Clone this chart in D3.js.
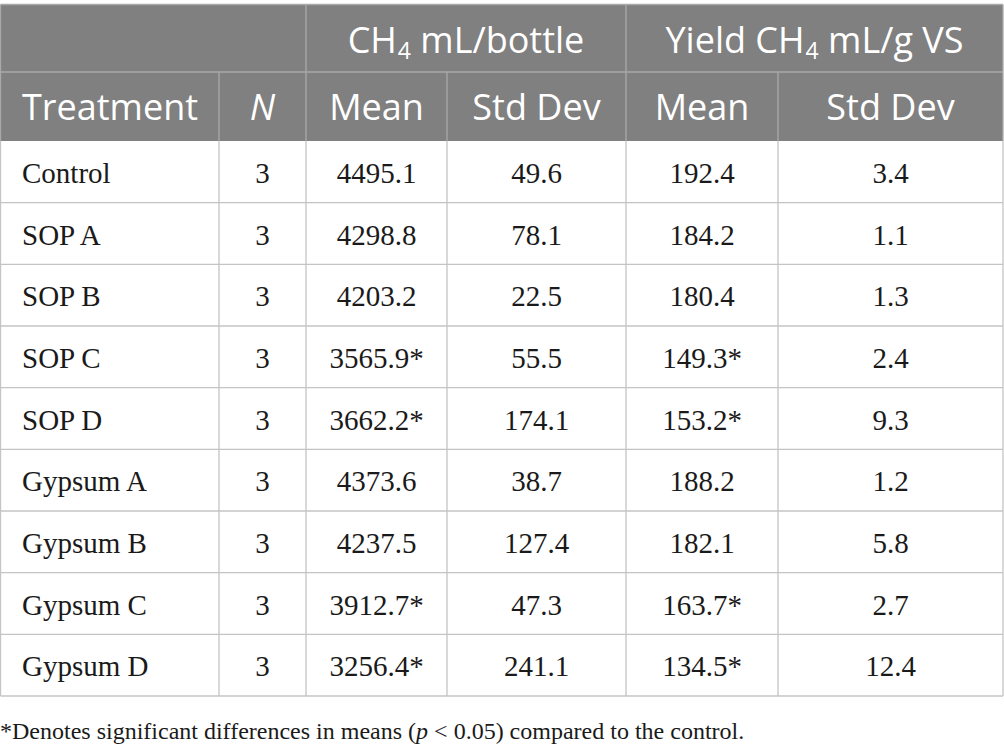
<!DOCTYPE html>
<html>
<head>
<meta charset="utf-8">
<script src="https://cdn.jsdelivr.net/npm/d3@7"></script>
<style>
  html, body { margin: 0; padding: 0; background: #fff; }
  svg { display: block; }
</style>
</head>
<body>
<div id="table"></div>
<script>
// table contents
const treatments = ["Control", "SOP A", "SOP B", "SOP C", "SOP D", "Gypsum A", "Gypsum B", "Gypsum C", "Gypsum D"];
const nValues = [3, 3, 3, 3, 3, 3, 3, 3, 3];
const bottleMean = [4495.1, 4298.8, 4203.2, 3565.9, 3662.2, 4373.6, 4237.5, 3912.7, 3256.4];
const bottleSd = [49.6, 78.1, 22.5, 55.5, 174.1, 38.7, 127.4, 47.3, 241.1];
const yieldMean = [192.4, 184.2, 180.4, 149.3, 153.2, 188.2, 182.1, 163.7, 134.5];
const yieldSd = [3.4, 1.1, 1.3, 2.4, 9.3, 1.2, 5.8, 2.7, 12.4];
// significantly different from control (p < 0.05)
const significant = [false, false, false, true, true, false, false, true, true];
const subHeaders = ["Treatment", "N", "Mean", "Std Dev", "Mean", "Std Dev"];
const groupHeaders = [
  { pre: "CH", sub: "4", post: " mL/bottle", from: 2, to: 4 },
  { pre: "Yield CH", sub: "4", post: " mL/g VS", from: 4, to: 6 }
];
const footnote = "*Denotes significant differences in means (";

const width = 1004, height = 751;
const colEdges = [0.5, 219, 306, 447, 626, 778, 1003];
const tableTop = 4.5, head1 = 72, head2 = 141, tableBottom = 696;

const headFill = "#808080";
const headLine = "#a9a9a9";
const bodyLine = "#c4c4c4";
const sans = "'Open Sans', sans-serif";
const serif = "'Liberation Serif', 'Times New Roman', serif";

const fmt = d3.format(".1f");

const svg = d3.select("#table").append("svg")
  .attr("width", width)
  .attr("height", height)
  .attr("viewBox", [0, 0, width, height]);

// row scale for the body
const y = d3.scaleBand()
  .domain(treatments)
  .range([head2, tableBottom]);

const colMid = i => (colEdges[i] + colEdges[i + 1]) / 2;

// header background
svg.append("rect")
  .attr("x", colEdges[0]).attr("y", tableTop)
  .attr("width", colEdges[6] - colEdges[0]).attr("height", head2 - tableTop)
  .attr("fill", headFill);

// header lines
const hl = svg.append("g").attr("stroke", headLine).attr("stroke-width", 1.3);
hl.append("line").attr("x1", colEdges[0]).attr("x2", colEdges[6]).attr("y1", tableTop).attr("y2", tableTop);
hl.append("line").attr("x1", colEdges[0]).attr("x2", colEdges[6]).attr("y1", head1).attr("y2", head1);
[2, 4].forEach(i => hl.append("line")
  .attr("x1", colEdges[i]).attr("x2", colEdges[i]).attr("y1", tableTop).attr("y2", head1));
[1, 2, 3, 4, 5].forEach(i => hl.append("line")
  .attr("x1", colEdges[i]).attr("x2", colEdges[i]).attr("y1", head1).attr("y2", head2));
[0, 6].forEach(i => hl.append("line")
  .attr("x1", colEdges[i]).attr("x2", colEdges[i]).attr("y1", tableTop).attr("y2", head2));

// group header text
const gh = svg.append("g")
  .attr("font-family", sans).attr("font-size", 36).attr("fill", "#fff")
  .attr("text-anchor", "middle");
groupHeaders.forEach(h => {
  const t = gh.append("text")
    .attr("x", (colEdges[h.from] + colEdges[h.to]) / 2)
    .attr("y", 53);
  t.append("tspan").text(h.pre);
  t.append("tspan").attr("font-size", 23).attr("dy", 6).attr("dx", 1).text(h.sub);
  t.append("tspan").attr("dy", -6).text(h.post);
});

// sub header text
svg.append("g")
  .attr("font-family", sans).attr("font-size", 36).attr("fill", "#fff")
  .selectAll("text")
  .data(subHeaders)
  .join("text")
    .attr("x", (d, i) => i === 0 ? 22 : colMid(i))
    .attr("y", 120)
    .attr("text-anchor", (d, i) => i === 0 ? "start" : "middle")
    .attr("font-style", (d, i) => i === 1 ? "italic" : null)
    .text(d => d);

// body grid
const bl = svg.append("g").attr("stroke", bodyLine).attr("stroke-width", 1.3);
bl.selectAll("line.row")
  .data(treatments)
  .join("line")
    .attr("class", "row")
    .attr("x1", colEdges[0]).attr("x2", colEdges[6])
    .attr("y1", d => y(d) + y.bandwidth())
    .attr("y2", d => y(d) + y.bandwidth());
bl.selectAll("line.col")
  .data(colEdges)
  .join("line")
    .attr("class", "col")
    .attr("x1", d => d).attr("x2", d => d)
    .attr("y1", head2).attr("y2", tableBottom);

// body cells
const rows = treatments.map((t, i) => [
  t,
  String(nValues[i]),
  fmt(bottleMean[i]) + (significant[i] ? "*" : ""),
  fmt(bottleSd[i]),
  fmt(yieldMean[i]) + (significant[i] ? "*" : ""),
  fmt(yieldSd[i])
]);

const rowG = svg.append("g")
  .attr("font-family", serif).attr("font-size", 29).attr("fill", "#1a1a1a")
  .selectAll("g")
  .data(rows)
  .join("g")
    .attr("transform", (d, i) => `translate(0,${y(treatments[i]) + y.bandwidth() / 2 + 11})`);

rowG.selectAll("text")
  .data(d => d)
  .join("text")
    .attr("x", (d, i) => i === 0 ? 22 : colMid(i))
    .attr("text-anchor", (d, i) => i === 0 ? "start" : "middle")
    .text(d => d);

// footnote
const fn = svg.append("text")
  .attr("font-family", serif).attr("font-size", 24).attr("fill", "#1a1a1a")
  .attr("x", 0).attr("y", 739);
fn.append("tspan").text(footnote);
fn.append("tspan").attr("font-style", "italic").text("p");
fn.append("tspan").text(" < 0.05) compared to the control.");
</script>
</body>
</html>
